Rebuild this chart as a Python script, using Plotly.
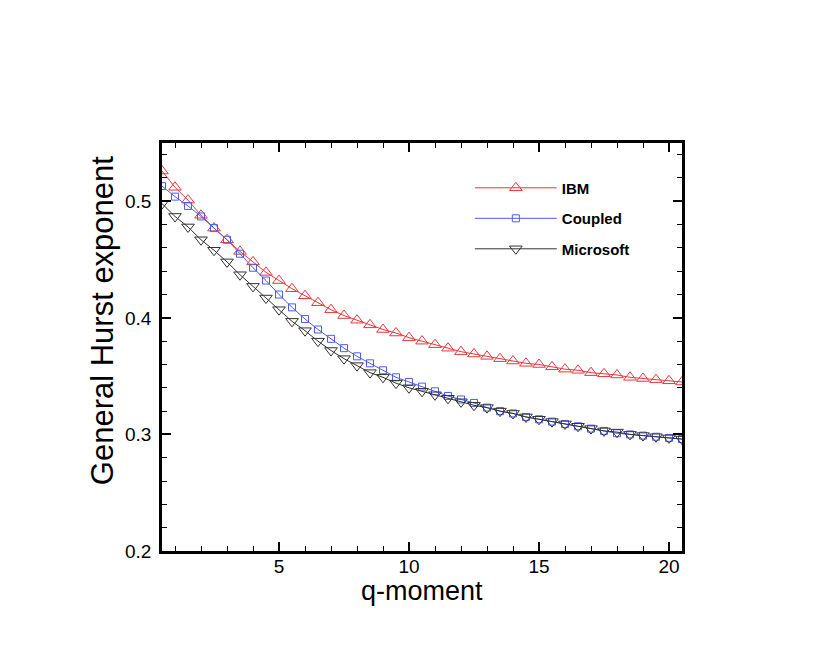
import plotly.graph_objects as go

# q-moment values (0.5 .. 20.5 in steps of 0.5)
q = [0.5, 1.0, 1.5, 2.0, 2.5, 3.0, 3.5, 4.0, 4.5, 5.0,
     5.5, 6.0, 6.5, 7.0, 7.5, 8.0, 8.5, 9.0, 9.5, 10.0,
     10.5, 11.0, 11.5, 12.0, 12.5, 13.0, 13.5, 14.0, 14.5, 15.0,
     15.5, 16.0, 16.5, 17.0, 17.5, 18.0, 18.5, 19.0, 19.5, 20.0, 20.5]

h_ibm = [0.526, 0.512, 0.501, 0.488, 0.477, 0.467, 0.457, 0.448, 0.439, 0.432,
         0.425, 0.419, 0.413, 0.407, 0.402, 0.398, 0.394, 0.390, 0.387, 0.383,
         0.380, 0.377, 0.374, 0.371, 0.369, 0.367, 0.365, 0.363, 0.361, 0.360,
         0.358, 0.356, 0.355, 0.353, 0.352, 0.351, 0.349, 0.348, 0.347, 0.346, 0.345]

h_coupled = [0.513, 0.504, 0.496, 0.487, 0.477, 0.467, 0.455, 0.443, 0.432, 0.420,
             0.409, 0.399, 0.390, 0.382, 0.374, 0.367, 0.361, 0.355, 0.349, 0.345,
             0.341, 0.337, 0.333, 0.330, 0.327, 0.323, 0.320, 0.318, 0.315, 0.313,
             0.311, 0.309, 0.307, 0.305, 0.303, 0.301, 0.300, 0.299, 0.298, 0.297, 0.296]

h_msft = [0.498, 0.487, 0.478, 0.467, 0.458, 0.448, 0.437, 0.427, 0.417, 0.407,
          0.397, 0.389, 0.380, 0.372, 0.365, 0.359, 0.353, 0.349, 0.344, 0.340,
          0.337, 0.334, 0.331, 0.328, 0.325, 0.323, 0.320, 0.318, 0.315, 0.313,
          0.311, 0.309, 0.307, 0.305, 0.303, 0.302, 0.300, 0.299, 0.298, 0.297, 0.296]

series = [
    ("IBM", h_ibm, "#e8383d", "triangle-up-open", 11),
    ("Coupled", h_coupled, "#4a5cf5", "square-open", 7),
    ("Microsoft", h_msft, "#333333", "triangle-down-open", 11),
]

FONT = "Liberation Sans, Arial"

fig = go.Figure()
for name, vals, col, sym, sz in series:
    fig.add_trace(go.Scatter(
        x=q, y=vals, name=name, mode="lines+markers", legendgroup=name,
        line=dict(color=col, width=1),
        marker=dict(symbol=sym, size=sz, color=col, line=dict(width=1, color=col)),
    ))

axis_common = dict(
    showline=True, linecolor="black", linewidth=2.5, mirror="allticks",
    ticks="inside", ticklen=9, tickwidth=2, tickcolor="black",
    showgrid=False, zeroline=False, automargin=False,
    tickfont=dict(family=FONT, size=19, color="black"),
)

fig.update_xaxes(
    range=[0.5, 20.5], tickvals=[5, 10, 15, 20], ticklabelstandoff=-4,
    minor=dict(dtick=1, tick0=0, ticks="inside", ticklen=5, tickwidth=1, tickcolor="black"),
    **axis_common,
)
fig.update_yaxes(
    range=[0.2, 0.55], tickvals=[0.2, 0.3, 0.4, 0.5], ticktext=["0.2", "0.3", "0.4", "0.5"],
    ticklabelstandoff=4,
    minor=dict(dtick=0.02, tick0=0.2, ticks="inside", ticklen=5, tickwidth=1, tickcolor="black"),
    **axis_common,
)

# axis titles
fig.add_annotation(text="q-moment", xref="paper", yref="paper", x=0.5, y=-0.099,
                   xanchor="center", yanchor="middle", showarrow=False,
                   font=dict(family=FONT, size=27, color="black"))
fig.add_annotation(text="General Hurst exponent", xref="paper", yref="paper", x=-0.114, y=0.565,
                   xanchor="center", yanchor="middle", showarrow=False, textangle=-90,
                   font=dict(family=FONT, size=31, color="black"))

fig.update_layout(
    width=817, height=660,
    margin=dict(l=154, r=143, t=135, b=117),
    plot_bgcolor="white", paper_bgcolor="white",
    legend=dict(
        x=0.592, y=0.93, xanchor="left", yanchor="top",
        bgcolor="rgba(0,0,0,0)", borderwidth=0,
        font=dict(family=FONT, size=15, color="black", weight="bold"),
        itemwidth=82, tracegroupgap=8, traceorder="grouped",
    ),
    showlegend=True,
)

fig.write_html("out.html")
